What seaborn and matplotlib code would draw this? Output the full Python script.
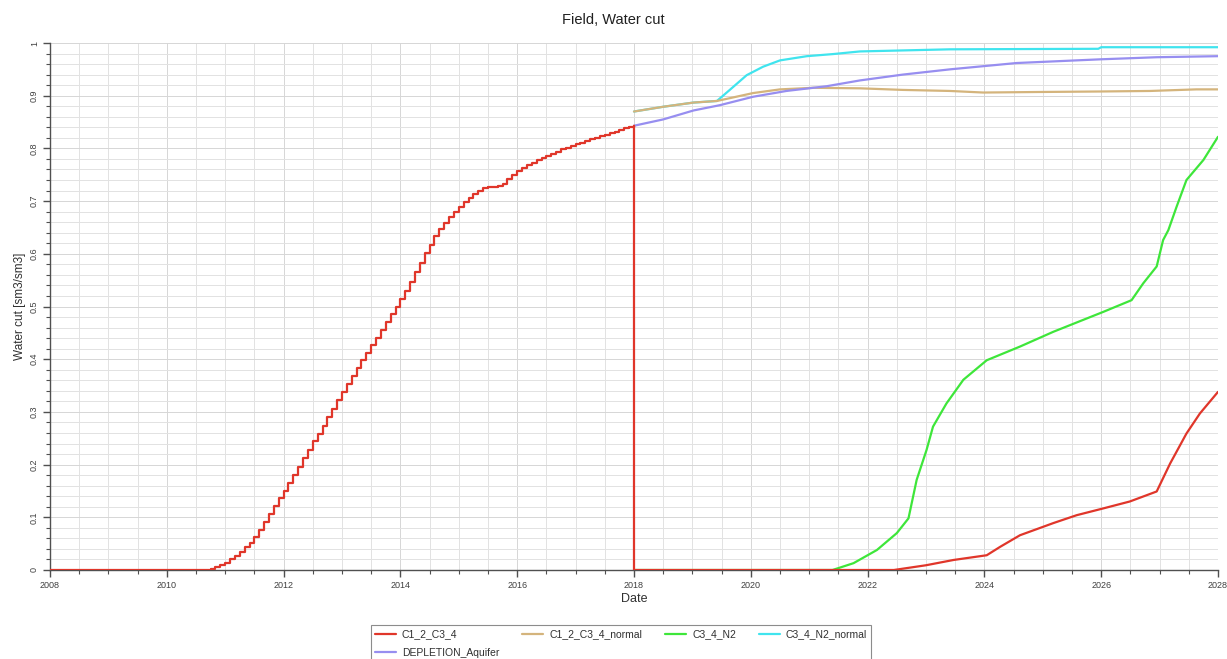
import numpy as np
import pandas as pd
import matplotlib
matplotlib.use("Agg")
import matplotlib.pyplot as plt
from matplotlib.ticker import MultipleLocator
import seaborn as sns

# ---------------- data (decimal years, water cut) ----------------
series_names = ["C1_2_C3_4", "C1_2_C3_4_normal", "C3_4_N2", "C3_4_N2_normal", "DEPLETION_Aquifer"]
series_colors = ["#e0362a", "#d4b47c", "#3ee63a", "#40e4ee", "#978ef0"]

# C1_2_C3_4 history: monthly steps from Sep 2010 to Jan 2018
red_hist_start = 2010 + 8 / 12
red_hist_values = [
    0.000, 0.002, 0.005, 0.009,
    0.014, 0.020, 0.027, 0.035, 0.044, 0.052, 0.062, 0.076, 0.092, 0.107, 0.122, 0.136,
    0.149, 0.165, 0.180, 0.196, 0.212, 0.228, 0.244, 0.259, 0.274, 0.290, 0.306, 0.322,
    0.338, 0.353, 0.368, 0.383, 0.398, 0.412, 0.426, 0.440, 0.455, 0.470, 0.485, 0.500,
    0.515, 0.530, 0.547, 0.565, 0.583, 0.601, 0.617, 0.633, 0.647, 0.659, 0.670, 0.680,
    0.689, 0.698, 0.706, 0.714, 0.720, 0.724, 0.726, 0.727, 0.729, 0.733, 0.742, 0.750,
    0.757, 0.763, 0.768, 0.773, 0.778, 0.782, 0.786, 0.790, 0.794, 0.798, 0.801, 0.805,
    0.808, 0.811, 0.814, 0.817, 0.820, 0.823, 0.826, 0.829, 0.832, 0.835, 0.838, 0.841,
    0.843,
]

# C1_2_C3_4 forecast
red_fc_x = [2018.0, 2018.0, 2022.45, 2023.0, 2023.47, 2024.04, 2024.27, 2024.61, 2025.18,
            2025.58, 2026.04, 2026.49, 2026.95, 2027.18, 2027.46, 2027.69, 2028.0]
red_fc_y = [0.843, 0.0, 0.0, 0.009, 0.019, 0.028, 0.044, 0.066, 0.089,
            0.104, 0.117, 0.130, 0.149, 0.202, 0.259, 0.297, 0.338]

tan_x = [2018.0, 2018.5, 2019.02, 2019.42, 2020.04, 2020.5, 2021.07, 2021.87, 2022.6,
         2023.41, 2023.98, 2024.9, 2026.0, 2026.84, 2027.63, 2028.0]
tan_y = [0.870, 0.879, 0.887, 0.890, 0.905, 0.912, 0.915, 0.914, 0.911,
         0.909, 0.906, 0.907, 0.908, 0.909, 0.912, 0.912]

green_x = [2018.0, 2021.4, 2021.76, 2022.16, 2022.5, 2022.7, 2022.84, 2023.01, 2023.12,
           2023.35, 2023.64, 2024.04, 2024.61, 2025.18, 2026.04, 2026.52, 2026.72, 2026.95,
           2027.06, 2027.15, 2027.29, 2027.46, 2027.75, 2028.0]
green_y = [0.0, 0.0, 0.013, 0.038, 0.070, 0.098, 0.171, 0.228, 0.272,
           0.316, 0.361, 0.398, 0.424, 0.452, 0.490, 0.512, 0.544, 0.576,
           0.626, 0.645, 0.689, 0.740, 0.778, 0.822]

cyan_x = [2018.0, 2018.5, 2019.02, 2019.42, 2019.64, 2019.93, 2020.21, 2020.5, 2020.96,
          2021.41, 2021.87, 2023.41, 2025.95, 2026.0, 2028.0]
cyan_y = [0.870, 0.879, 0.887, 0.890, 0.911, 0.939, 0.955, 0.967, 0.975,
          0.979, 0.984, 0.988, 0.989, 0.992, 0.992]

purple_x = [2018.0, 2018.5, 2019.02, 2019.47, 2020.04, 2020.61, 2021.3, 2021.87, 2022.6,
            2023.41, 2024.55, 2025.98, 2026.95, 2028.0]
purple_y = [0.843, 0.855, 0.872, 0.882, 0.898, 0.909, 0.918, 0.929, 0.940,
            0.950, 0.962, 0.969, 0.973, 0.975]

x_ticks = [2008, 2010, 2012, 2014, 2016, 2018, 2020, 2022, 2024, 2026, 2028]
y_ticks = [0, 0.1, 0.2, 0.3, 0.4, 0.5, 0.6, 0.7, 0.8, 0.9, 1]

# ---------------- styling ----------------
sns.set_theme(style="white")
plt.rcParams["font.family"] = ["Liberation Sans", "DejaVu Sans"]

fig = plt.figure(figsize=(12.27, 6.59), dpi=100)
W, H = 1227, 659
ax = fig.add_axes([50 / W, 1 - 570 / H, (1218 - 50) / W, (570 - 43) / H])

red_hist_x = [2008.0] + list(red_hist_start + np.arange(len(red_hist_values)) / 12)
red_hist_y = [0.0] + red_hist_values

lw = 1.6
common = dict(estimator=None, sort=False, ax=ax, linewidth=lw)

sns.lineplot(x=green_x, y=green_y, color=series_colors[2], zorder=2, **common)
sns.lineplot(x=cyan_x, y=cyan_y, color=series_colors[3], zorder=2, **common)
sns.lineplot(x=tan_x, y=tan_y, color=series_colors[1], zorder=3, **common)
sns.lineplot(x=purple_x, y=purple_y, color=series_colors[4], zorder=3, **common)
sns.lineplot(x=red_hist_x, y=red_hist_y, color=series_colors[0], zorder=4,
             drawstyle="steps-post", **common)
sns.lineplot(x=red_fc_x, y=red_fc_y, color=series_colors[0], zorder=4, **common)

ax.set_xlim(2008, 2028)
ax.set_ylim(0, 1)
ax.xaxis.set_minor_locator(MultipleLocator(0.5))
ax.yaxis.set_minor_locator(MultipleLocator(0.02))
ax.set_xticks(x_ticks)
ax.set_xticklabels([str(t) for t in x_ticks])
ax.set_yticks(y_ticks)
ax.set_yticklabels(["0" if t == 0 else ("1" if t == 1 else f"{t:.1f}") for t in y_ticks],
                   rotation=90, va="center")

ax.grid(True, which="major", color="#d6d6d6", linewidth=0.7)
ax.grid(True, which="minor", color="#e2e2e2", linewidth=0.7)
ax.set_axisbelow(True)

for s in ["top", "right"]:
    ax.spines[s].set_visible(False)
for s in ["left", "bottom"]:
    ax.spines[s].set_color("#505050")
    ax.spines[s].set_linewidth(1.0)

ax.tick_params(axis="both", which="major", direction="out", length=5, width=1,
               color="#505050", labelsize=6.5, labelcolor="#404040", pad=3,
               bottom=True, left=True)
ax.tick_params(axis="both", which="minor", direction="out", length=3, width=0.8,
               color="#505050", bottom=True, left=True)

ax.set_xlabel("Date", fontsize=9, color="#303030", labelpad=2)
ax.set_ylabel("Water cut [sm3/sm3]", fontsize=8.5, color="#303030", labelpad=3)
fig.text(0.5, 1 - 20 / H, "Field, Water cut", ha="center", va="center",
         fontsize=10.5, color="#202020")

# legend (row-major order)
handles = [plt.Line2D([], [], color=c, linewidth=lw) for c in series_colors]
order = [0, 4, 1, 2, 3]
leg = fig.legend([handles[i] for i in order], [series_names[i] for i in order],
                 loc="upper center", bbox_to_anchor=(621 / W, 1 - 625 / H),
                 ncol=4, fontsize=7.5, frameon=True, fancybox=False,
                 handlelength=2.0, handletextpad=0.6, columnspacing=2.2,
                 labelspacing=0.8, borderpad=0.4, borderaxespad=0.0)
leg.get_frame().set_edgecolor("#707070")
leg.get_frame().set_linewidth(0.8)
for t in leg.get_texts():
    t.set_color("#303030")

fig.savefig("out.png", dpi=100)
